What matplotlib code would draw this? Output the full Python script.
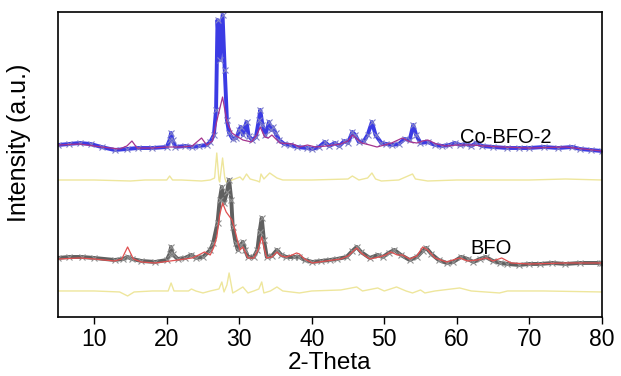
import matplotlib.pyplot as plt

plt.rcParams['font.family'] = ['Liberation Sans', 'DejaVu Sans']

# --- Co-BFO-2 (gorny wzor) ---
co_obs_x = [5.0, 6.5, 8.0, 9.5, 11.0, 12.8, 14.5, 16.0, 18.0, 20.0, 20.4, 20.6, 20.8, 21.2,
            22.5, 23.5, 24.5, 25.5, 26.0, 26.5, 26.8, 27.0, 27.3, 27.7, 28.0, 28.3, 28.6,
            29.1, 29.6, 30.0, 30.2, 30.5, 31.0, 31.3, 31.8, 32.3, 32.7, 32.9, 33.2, 33.6,
            34.1, 34.4, 34.6, 35.0, 35.5, 36.2, 37.0, 38.0, 39.3, 40.1, 41.0, 41.8, 42.4,
            43.2, 43.8, 44.5, 45.0, 45.6, 46.0, 46.5, 47.2, 47.7, 48.3, 48.8, 49.6, 50.3,
            51.1, 52.0, 52.8, 53.5, 54.0, 54.4, 55.0, 56.0, 57.0, 58.0, 59.0, 59.7, 60.5,
            61.3, 62.0, 62.7, 63.5, 65.0, 67.0, 68.6, 70.0, 72.0, 74.0, 75.9, 77.0, 78.5, 80.0]
co_obs_y = [172, 173, 174, 173, 170, 167, 168, 169, 169, 170, 177, 184, 177, 170,
            171, 170, 171, 172, 175, 182, 207, 297, 257, 302, 247, 197, 184,
            178, 179, 187, 190, 182, 195, 181, 177, 180, 197, 207, 192, 182,
            195, 187, 190, 184, 177, 173, 172, 170, 169, 168, 170, 175, 171,
            174, 171, 176, 174, 185, 182, 175, 176, 182, 195, 182, 174, 173,
            172, 173, 178, 177, 192, 182, 174, 175, 172, 171, 172, 174, 172,
            173, 171, 174, 171, 170, 169, 169, 169, 170, 169, 170, 168, 167, 166]

co_calc_x = [5, 8, 11, 13.5, 14.5, 15.2, 15.9, 18, 20, 22, 23.5, 24.8, 25.5, 26.3, 27.0,
             27.7, 28.3, 29.0, 29.6, 30.5, 31.7, 32.4, 32.9, 33.5, 34.0, 34.5, 35.6, 37.4,
             38.3, 39.4, 40.5, 42, 44, 45.0, 45.6, 46.9, 48.0, 49.0, 51.0, 52.5, 53.6, 54.5,
             55.3, 56.0, 57.2, 58.5, 60, 62, 64, 66, 70, 75, 80]
co_calc_y = [172, 173, 170, 168, 171, 176, 169, 169, 170, 170, 171, 179, 172, 176, 199,
             220, 195, 184, 181, 177, 175, 182, 190, 180, 179, 182, 174, 173,
             170, 172, 170, 171, 173, 176, 182, 174, 172, 170, 174, 179, 175, 174,
             176, 177, 173, 171, 172, 172, 171, 170, 169, 170, 166]

co_diff_x = [5, 10, 15, 17, 20.0, 20.4, 20.8, 22, 24.8, 26.0, 26.6, 26.9, 27.2, 27.3, 27.7,
             28.0, 28.2, 29.0, 30.1, 30.5, 31.0, 31.5, 32.5, 32.8, 33.0, 33.4, 34.2, 34.6,
             35.2, 36.0, 40, 45, 45.6, 46.5, 47.7, 48.3, 48.8, 49.6, 52, 53.9, 54.3, 56,
             60, 65, 70, 75, 80]
co_diff_y = [137, 137, 136, 137, 137, 141, 137, 137, 136, 137, 139, 164, 137, 135, 159,
             139, 135, 137, 140, 137, 143, 138, 136, 135, 143, 138, 144, 142,
             139, 137, 137, 138, 141, 137, 139, 144, 138, 136, 137, 143, 138, 136,
             137, 137, 137, 138, 137]

# --- BFO (dolny wzor) ---
bfo_obs_x = [5, 6.5, 8.3, 10, 12.8, 14.0, 14.6, 15.2, 16.5, 18.4, 20.0, 20.4, 20.6, 20.8,
             21.5, 22.5, 23.4, 24.0, 25.0, 26.0, 26.4, 27.0, 27.3, 27.6, 27.9, 28.3, 28.6,
             28.9, 29.1, 29.5, 29.8, 30.2, 30.5, 30.8, 31.2, 32.0, 32.5, 32.8, 33.1, 33.4,
             33.8, 34.5, 35.2, 35.8, 36.5, 37.5, 38.3, 39.0, 40.1, 41.3, 42.5, 43.5, 44.8,
             45.6, 46.2, 46.8, 48.0, 49.1, 49.8, 50.6, 51.4, 52.3, 53.5, 54.5, 55.3, 55.8,
             56.5, 57.5, 58.6, 59.5, 60.6, 61.5, 62.3, 63.2, 64.0, 65.0, 66.0, 67.0, 68.6,
             70.0, 71.5, 73.2, 75, 77, 79.7, 80]
bfo_obs_y = [59, 60, 60, 59, 57, 58, 60, 58, 56, 55, 57, 63, 70, 63,
             58, 59, 62, 59, 60, 67, 74, 94, 117, 130, 114, 125, 137,
             117, 90, 74, 67, 72, 75, 67, 60, 60, 67, 85, 99, 77,
             60, 61, 67, 62, 60, 60, 60, 57, 55, 56, 57, 58, 60,
             66, 70, 65, 59, 62, 60, 64, 67, 62, 57, 60, 66, 69,
             63, 57, 54, 55, 60, 58, 55, 58, 60, 56, 54, 53, 52,
             53, 53, 54, 53, 54, 54, 54]

bfo_calc_x = [5, 8, 10, 12.8, 13.8, 14.6, 15.4, 16.5, 18.4, 20.5, 21.5, 22.5, 23.5, 24.4,
              25.2, 26.0, 26.5, 26.9, 27.3, 27.7, 28.2, 28.7, 29.0, 29.4, 29.8, 30.1, 30.5,
              31.2, 32.0, 32.6, 33.1, 33.5, 33.8, 34.5, 35.2, 35.8, 36.5, 37.3, 37.9, 38.3,
              39.0, 40.1, 42, 44, 45.0, 45.6, 46.2, 46.8, 48.0, 49.3, 50.2, 50.9, 51.8, 52.5,
              53.5, 54.5, 55.3, 56.0, 57.0, 58.6, 60.4, 61.5, 62.8, 64.1, 65.0, 66.2, 67.5,
              70, 75, 80]
bfo_calc_y = [58, 59, 58, 56, 58, 70, 58, 55, 54, 56, 57, 58, 59, 62,
              65, 62, 70, 80, 102, 114, 105, 100, 97, 87, 75, 67, 70,
              59, 59, 67, 80, 67, 59, 60, 65, 61, 60, 62, 64, 63,
              58, 54, 56, 58, 61, 65, 69, 64, 58, 60, 62, 65, 62, 62,
              58, 61, 70, 67, 59, 55, 59, 56, 57, 59, 56, 59, 54,
              53, 54, 54]

bfo_diff_x = [5, 10, 13.5, 14.6, 15.5, 18, 20.2, 20.6, 21.0, 23.0, 23.4, 24.0, 25.0, 26.0,
              27.2, 27.6, 27.9, 28.3, 28.6, 29.1, 29.6, 30.5, 31.2, 32.0, 32.7, 33.1, 33.4,
              34.3, 35.2, 36.0, 38.3, 40, 44, 46.2, 47.0, 49.1, 50.0, 51.7, 53.0, 53.9, 55.0,
              55.6, 57, 60.4, 62, 65.9, 67, 72, 80]
bfo_diff_y = [26, 26, 25, 21, 25, 26, 26, 34, 26, 26, 28, 26, 24, 26,
              28, 35, 25, 32, 44, 24, 26, 30, 24, 26, 28, 35, 24,
              26, 30, 26, 24, 26, 27, 30, 26, 29, 26, 30, 26, 24, 27,
              24, 26, 29, 26, 24, 26, 26, 25]

etykiety_x = [10, 20, 30, 40, 50, 60, 70, 80]

fig = plt.figure(figsize=(6.21, 3.76), dpi=100)
ax = fig.add_axes([0.0934, 0.157, 0.8756, 0.811])

kolor_roznicy = '#eee69c'
ax.plot(co_diff_x, co_diff_y, color=kolor_roznicy, lw=1.0)
ax.plot(bfo_diff_x, bfo_diff_y, color=kolor_roznicy, lw=1.0)

# obserwowane: gesty pas krzyzykow
ax.plot(co_obs_x, co_obs_y, color='#1818e0', lw=2.8, alpha=0.85)
ax.plot(co_obs_x, co_obs_y, ls='none', marker='x', ms=5, mew=0.8, color='#8080c8')
ax.plot(co_calc_x, co_calc_y, color='#a4348e', lw=0.9)

ax.plot(bfo_obs_x, bfo_obs_y, color='#444444', lw=2.8, alpha=0.85)
ax.plot(bfo_obs_x, bfo_obs_y, ls='none', marker='x', ms=5, mew=0.8, color='#909090')
ax.plot(bfo_calc_x, bfo_calc_y, color='#e05050', lw=0.9)

ax.text(66.8, 180, 'Co-BFO-2', fontsize=14.5, ha='center', va='center')
ax.text(64.8, 68, 'BFO', fontsize=14.5, ha='center', va='center')

ax.set_xlim(5, 80)
ax.set_ylim(0, 305)
ax.set_xticks(etykiety_x)
ax.set_yticks([])
ax.tick_params(axis='x', direction='out', length=5, width=1, labelsize=16.5, pad=3)
ax.set_xlabel('2-Theta', fontsize=17.5, labelpad=1)
ax.set_ylabel('Intensity (a.u.)', fontsize=18)
ax.yaxis.set_label_coords(-0.05, 0.57)
for s in ax.spines.values():
    s.set_linewidth(1.2)

fig.savefig('out.png', dpi=100)
